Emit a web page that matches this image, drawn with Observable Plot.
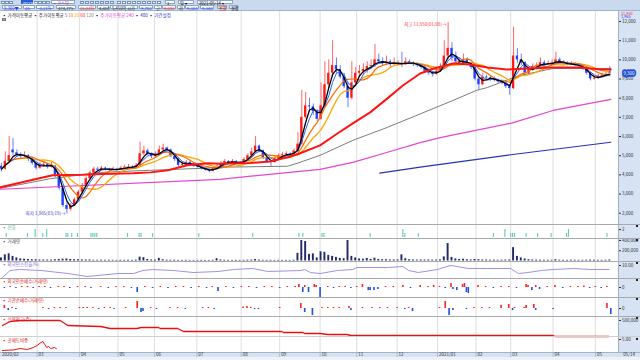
<!DOCTYPE html>
<html><head><meta charset="utf-8">
<script src="https://cdn.jsdelivr.net/npm/d3@7"></script>
<script src="https://cdn.jsdelivr.net/npm/@observablehq/plot@0.6"></script>
<style>
html,body{margin:0;padding:0;background:#fff}
#root{position:relative;width:640px;height:360px;overflow:hidden;font-family:"Noto Sans CJK KR","Noto Sans",sans-serif}
.abs{position:absolute}
.t{position:absolute;font-size:4.5px;line-height:4.5px;white-space:nowrap}
.box{position:absolute;background:#fff;border:0.5px solid #8ea5c4;box-sizing:border-box;font-size:4.2px;line-height:4px;white-space:nowrap;padding-left:1px}
.ib{position:absolute;width:3.5px;height:3.5px;background:#eef3fa;border:0.5px solid #7b93b5;box-sizing:border-box}
.sep{position:absolute;left:0;width:640px;height:1px;background:#a9a9a9}
</style></head>
<body><div id="root"></div>
<script>
// ---------- data ----------
const monthDay = [0,19,41,61,80,102,125,145,166,185,206,227,247,265,287,309];
const monthLabel = ["2020/02","03","04","05","06","07","08","09","10","11","12","2021/01","02","03","04","05"];
const lastDateLabel = "05/14";

const open = [4450,4300,4700,5300,5150,5050,4950,5000,4800,4600,
4350,4500,4550,4400,4450,4000,3300,2400,2200,2400,
2700,3100,3450,3800,4100,4300,4250,4350,4300,4250,
4300,4280,4350,4400,4420,4400,4500,5100,5250,5100,
4950,5050,5300,5400,5300,4950,4800,4500,4550,4650,
4550,4450,4400,4300,4250,4200,4350,4450,4600,4700,
4650,4700,4600,4650,4800,5000,5200,5500,5250,4850,
4700,4650,4850,5000,5050,5100,5050,5250,5600,7000,
7600,7550,7300,6900,7600,8700,9300,9700,9500,9100,
8600,8000,8800,9300,9400,9500,9650,9700,10000,9900,
9800,9900,9750,9850,9800,9750,9900,9850,9750,9700,
9600,9400,9300,9250,9400,9600,10200,10600,10100,9900,
9800,10000,9800,9600,9000,8700,9100,9050,9000,8950,
8850,8800,8600,8500,10200,10000,9850,9300,9500,9650,
9700,9850,9750,9800,9850,10000,9850,9800,9750,9800,
9700,9650,9500,9300,9000,9050,9150,9200,9400];
const high = [4600,5200,6000,5900,5300,5150,5200,5050,4900,4650,
4650,4700,4600,4650,4500,4050,3400,2550,2500,2800,
3200,3550,3900,4200,4400,4400,4450,4400,4350,4400,
4350,4450,4500,4550,4480,4600,5700,5500,5350,5150,
5200,5500,5600,5450,5350,5000,4850,4650,4750,4700,
4600,4500,4450,4350,4300,4400,4550,4700,4800,4750,
4800,4750,4700,4900,5100,5400,6000,5550,5300,4900,
4750,4950,5100,5150,5200,5150,5350,6200,8400,8300,
8000,7700,7400,8800,9900,10000,11000,10100,9700,9300,
8800,9900,9600,9700,9800,9900,10000,10800,10300,10100,
10200,10000,10100,9950,10400,10100,10000,9900,9850,9750,
9650,9500,9400,9550,9800,11000,11950,10900,10400,10100,
10300,10100,9850,9650,9100,9300,9200,9150,9100,9000,
8950,8850,8700,11700,10600,10300,9900,9650,9800,9850,
10100,9950,9950,10000,10400,10100,9950,9900,9900,9850,
9750,9700,9550,9350,9150,9250,9300,9350,9650];
const low = [4150,4250,4650,5000,4900,4850,4900,4700,4500,4250,
4300,4400,4300,4350,3850,3200,2300,1965,2100,2350,
2650,3000,3350,3700,4000,4150,4200,4200,4150,4200,
4200,4250,4300,4350,4300,4350,4450,5000,5000,4850,
4900,5000,5250,5200,4900,4700,4400,4450,4500,4500,
4400,4350,4250,4200,4100,4150,4300,4400,4550,4600,
4600,4550,4550,4600,4750,4950,5150,5150,4800,4600,
4400,4600,4800,4950,5000,4950,5000,5200,5550,6900,
7300,7100,6800,6850,7500,8500,9100,9300,9000,8500,
7500,7900,8700,9100,9200,9300,9500,9600,9800,9650,
9700,9600,9700,9700,9600,9700,9750,9650,9600,9500,
9300,9200,9100,9200,9350,9550,10000,9900,9800,9700,
9750,9700,9500,8900,8400,8650,8950,8900,8850,8750,
8700,8500,8150,8450,9800,9700,9200,9250,9450,9550,
9650,9650,9700,9750,9800,9800,9750,9700,9700,9650,
9600,9450,9200,8900,8950,9000,9100,9100,9250];
const close = [4300,4700,5000,5150,5050,4950,5000,4800,4600,4350,
4500,4550,4400,4500,4000,3300,2400,2200,2400,2700,
3100,3450,3800,4100,4300,4250,4350,4300,4250,4300,
4280,4350,4400,4420,4400,4500,5100,5250,5100,4950,
5050,5300,5400,5300,4950,4800,4500,4550,4650,4550,
4450,4400,4300,4250,4200,4350,4450,4600,4700,4650,
4700,4600,4650,4800,5000,5200,5500,5250,4850,4700,
4650,4850,5000,5050,5100,5050,5250,5600,7000,7600,
7550,7300,6900,7600,8700,9300,9700,9500,9100,8600,
8000,8800,9300,9400,9500,9650,9700,10000,9900,9800,
9900,9750,9850,9800,9750,9900,9850,9750,9700,9600,
9400,9300,9250,9400,9600,10200,10600,10100,9900,9800,
10000,9800,9600,9000,8700,9100,9050,9000,8950,8850,
8800,8600,8500,10200,10000,9850,9300,9500,9650,9700,
9850,9750,9800,9850,10000,9850,9800,9750,9800,9700,
9650,9500,9300,9000,9050,9150,9200,9250,9300];
const volume = [60000,120000,140000,90000,60000,40000,35000,30000,25000,25000,
20000,20000,18000,18000,25000,30000,35000,40000,30000,25000,
25000,22000,20000,20000,15000,14000,16000,13000,15000,14000,
12000,15000,14000,16000,13000,18000,75000,65000,30000,20000,
18000,50000,25000,16000,14000,15000,13000,12000,14000,12000,
11000,12000,13000,11000,12000,14000,45000,20000,15000,13000,
12000,14000,12000,13000,16000,18000,30000,18000,14000,12000,
13000,12000,14000,12000,13000,12000,15000,150000,400000,380000,
130000,140000,60000,180000,170000,110000,90000,70000,50000,45000,
400000,90000,60000,40000,35000,50000,30000,55000,30000,25000,
25000,20000,20000,22000,120000,45000,25000,20000,18000,20000,
18000,20000,17000,18000,22000,80000,340000,70000,40000,30000,
35000,25000,20000,30000,25000,20000,18000,16000,17000,15000,
16000,18000,20000,260000,90000,60000,40000,25000,20000,18000,
16000,15000,14000,15000,25000,16000,14000,13000,15000,14000,
13000,14000,15000,18000,15000,14000,13000,15000,20000];
const lowDate = "03/19", highDate = "01/08";

const ma60Day = [0,27,43,52,69,78,87,97,108,114,130,140,150,155,166,175,183,192,201,209,218,225,235,244,253,263,274,287,301,312,317];
const ma60Val = [3350,3980,4000,4050,4080,4130,4240,4500,4600,4580,4620,4700,4950,5100,5540,6160,6690,7260,7990,8660,9290,9550,9810,9760,9600,9500,9550,9600,9600,9500,9500];
const ma120Day = [0,26,52,78,104,114,149,154,166,183,201,218,235,247,253,264,270,287,305,317];
const ma120Val = [3300,3800,4130,4240,4340,4400,4450,4600,5020,5800,6480,7180,7880,8400,8560,8980,9190,9550,9550,9550];
const ma240Day = [0,114,166,183,201,218,229,265,287,317];
const ma240Val = [3250,3770,4290,4650,5180,5680,5960,6690,7360,7940];
const ma480Day = [197,218,265,317];
const ma480Val = [4090,4400,5050,5700];

const sigDay = [3,14,18,22,24,34,35,37,40,47,48,49,50,66,72,73,79,103,131,155,157,167,168,192,209,210,217,256,262,265,266,267,273,279,286,294,295,315];
const sigVal = [1,1,2,1,2,1,1,1,1,1,1,1,1,1,1,1,1,1,1,1,1,1,1,1,2,1,1,1,2,1,1,1,1,1,1,1,2,1];

const ownDay = [1,5,10,21,35,45,61,69,74,79,90,100,113,121,131,139,156,158,161,166,175,183,185,201,209,212,217,227,232,234,243,253,265,269,274,281,287,298,306,316];
const ownVal = [7.0,8.75,9.0,8.75,8.0,7.25,8.0,8.0,8.75,9.0,8.75,8.25,8.5,9.0,9.25,8.5,8.75,9.0,8.25,8.0,8.75,9.0,9.5,9.5,9.75,8.75,8.25,9.0,9.75,10.0,9.25,9.25,9.25,8.0,8.25,8.75,9.0,9.25,9.0,9.0];

const forDay = [2,5,8,11,14,17,20,23,26,30,33,36,40,44,47,52,56,60,64,68,71,75,79,83,87,91,95,99,103,107,110,113,117,121,125,129,133,137,141,145,149,153,155,157,158,160,163,164,166,170,173,176,179,182,185,188,191,192,194,196,200,204,209,213,218,222,225,228,231,234,235,237,240,241,242,243,248,252,256,260,264,268,273,274,276,278,280,284,288,292,296,300,303,306,309,312,315];
const forVal = [-1,1,-1,1,1,-1,1,1,-1,1,1,-1,1,1,-1,1,-1,1,1,-1,-5,1,-1,1,-1,1,1,-1,1,-1,1,-4,1,-1,1,1,-1,1,1,-1,1,1,3,-5,2,-5,3,2,-10,1,-1,1,1,-1,1,3,-3,-3,-3,-2,1,1,2,-1,2,1,2,1,-1,4,-2,-3,3,4,-5,-6,2,1,-1,1,1,-1,3,2,-3,2,-2,1,2,-1,1,1,1.5,-1,1,-1,1];

const insDay = [2,4,6,8,22,25,28,31,34,41,43,45,48,51,54,57,59,65,71,73,74,78,81,88,92,96,105,108,111,126,128,130,132,134,145,156,158,162,167,170,173,176,181,182,188,193,197,201,206,210,212,214,228,231,233,235,242,246,250,254,260,264,266,267,272,273,277,278,287,315,317];
const insVal = [3,-2,1,-1,1,-1,1,1,1,1,1,1,1,-1,1,1,-1,1,7,-4,-3,1,-1,1,1,-1,1,1,-1,1.5,2,1,-1,-1,1,5,-4,-7,1,1,1,1,2,-2,1,1,1,1,1,-1,1,-3,1,7,-7,-2,-1,1,1,1,3,4,-2,1,1,3,4,-2,-1,5,-6];

const crdDay = [1,5,10,31,35,52,57,71,73,82,83,92,95,146,147,157,158,166,170,180,182,287,288,316];
const crdVal = [375000,475000,500000,500000,375000,350000,300000,300000,325000,325000,300000,300000,225000,225000,200000,200000,175000,175000,150000,150000,125000,125000,100000,100000];

const shtDay = [1,7,10,14,17,19,21,22,23,24,25,26,28,29];
const shtVal = [2.25,2.4,2.75,2.5,3.0,3.5,4.25,4.5,3.75,3.0,3.25,2.75,3.0,2.75];

// ---------- helpers ----------
const root = document.getElementById("root");
const FONT = '"Noto Sans CJK KR","Noto Sans",sans-serif';
const W = 640, R = 22, XD = [0, 321];
const UP = "#ff1a1a", DN = "#1f3fff";
const fmt = d3.format(",");
const bars = close.map((c, i) => ({day: 2 * i + 0.5, o: open[i], h: high[i], l: low[i], c, v: volume[i]}));
const upBars = bars.filter(d => d.c >= d.o), dnBars = bars.filter(d => d.c < d.o);
const series = (days, vals) => days.map((d, i) => ({d, v: vals[i]}));
const grid = () => Plot.ruleX(monthDay.slice(1), {stroke: "#d6d6d6", strokeWidth: 0.8});

function add(html) { root.insertAdjacentHTML("beforeend", html); }
function place(svg, top) { svg.style.position = "absolute"; svg.style.left = "0px"; svg.style.top = top + "px"; root.appendChild(svg); }
function pane({top, height, domain, ticks, tickFormat, marks}) {
  place(Plot.plot({
    width: W, height, marginLeft: 0, marginRight: R, marginTop: 0, marginBottom: 0,
    x: {domain: XD, axis: null},
    y: {domain, axis: "right", ticks, tickFormat, tickSize: 2, tickPadding: 1.5, label: null},
    style: {background: "transparent", fontSize: "4.5px", fontFamily: FONT, color: "#333", overflow: "visible"},
    marks: [grid(), ...marks]
  }), top);
}

// ---------- backgrounds ----------
add(`<div class="abs" style="left:618px;top:11px;width:22px;height:341px;background:#d7e3f2;border-left:1px solid #9fb2cc;box-sizing:border-box"></div>`);
add(`<div class="abs" style="left:0;top:352px;width:640px;height:5px;background:#d7e3f2;border-top:1px solid #9fb2cc;box-sizing:border-box"></div>`);
add(`<div class="abs" style="left:0;top:357px;width:640px;height:3px;background:#eef1f6"></div>`);

// ---------- main price pane ----------
const lowI = d3.minIndex(low), highI = d3.maxIndex(high);
pane({
  top: 11, height: 213, domain: [1411, 12522],
  ticks: d3.range(2000, 12001, 1000), tickFormat: d => fmt(d),
  marks: [
    Plot.ruleX(upBars, {x: "day", y1: "l", y2: "h", stroke: UP, strokeWidth: 0.9, strokeOpacity: 0.75}),
    Plot.ruleX(dnBars, {x: "day", y1: "l", y2: "h", stroke: DN, strokeWidth: 0.9, strokeOpacity: 0.75}),
    Plot.rect(upBars, {x1: d => d.day - 0.6, x2: d => d.day + 0.6, y1: "o", y2: "c", fill: UP}),
    Plot.rect(dnBars, {x1: d => d.day - 0.6, x2: d => d.day + 0.6, y1: "o", y2: "c", fill: DN}),
    Plot.line(series(ma480Day, ma480Val), {x: "d", y: "v", stroke: "#2433b5", strokeWidth: 1.2}),
    Plot.line(series(ma240Day, ma240Val), {x: "d", y: "v", stroke: "#e545d0", strokeWidth: 1.2}),
    Plot.line(series(ma120Day, ma120Val), {x: "d", y: "v", stroke: "#7c7c7c", strokeWidth: 1}),
    Plot.lineY(bars, Plot.windowY({k: 11, anchor: "end", reduce: "mean"}, {x: "day", y: "c", stroke: "#ffa400", strokeWidth: 1.3})),
    Plot.lineY(bars, Plot.windowY({k: 7, anchor: "end", reduce: "mean"}, {x: "day", y: "c", stroke: "#ff6a00", strokeWidth: 1.2})),
    Plot.lineY(bars, Plot.windowY({k: 4, anchor: "end", reduce: "mean"}, {x: "day", y: "c", stroke: "#2a62ff", strokeWidth: 1})),
    Plot.lineY(bars, Plot.windowY({k: 3, anchor: "end", reduce: "mean"}, {x: "day", y: "c", stroke: "#000", strokeWidth: 1.3})),
    Plot.line(series(ma60Day, ma60Val), {x: "d", y: "v", stroke: "#ff1414", strokeWidth: 2}),
    Plot.text([lowI], {x: i => bars[i].day, y: i => low[i], text: i => `최저 ${fmt(low[i])}(${lowDate})→`, textAnchor: "end", dx: -1.5, fill: "#3b3bd6", fontSize: 4.5}),
    Plot.text([highI], {x: i => bars[i].day, y: i => high[i], text: i => `최고 ${fmt(high[i])}(${highDate})→`, textAnchor: "end", dx: -1.5, dy: 2, fill: "#ff3a3a", fontSize: 4.5}),
    Plot.text([close[close.length - 1]], {y: d => d, text: d => fmt(d), frameAnchor: "right", dx: 10.5, textAnchor: "middle", fill: "#fff", stroke: "#1d4fd0", strokeWidth: 3.5, fontSize: 4.5})
  ]
});

// ---------- sub panes ----------
pane({top: 224, height: 14, domain: [-0.25, 3.25], ticks: [2], tickFormat: d => String(d),
  marks: [Plot.ruleX(series(sigDay, sigVal), {x: "d", y1: 0, y2: "v", stroke: "#5fcfa4", strokeWidth: 1.1})]});
pane({top: 238, height: 23, domain: [-9800, 439000], ticks: [200000, 400000], tickFormat: d => fmt(d),
  marks: [Plot.rect(bars, {x1: d => d.day - 0.5, x2: d => d.day + 0.5, y1: 0, y2: "v", fill: "#222a6c"})]});
pane({top: 261, height: 17, domain: [6.75, 11], ticks: [10], tickFormat: d => d.toFixed(2),
  marks: [Plot.line(series(ownDay, ownVal), {x: "d", y: "v", stroke: "#a090e4", strokeWidth: 1})]});
const forS = series(forDay, forVal), insS = series(insDay, insVal);
pane({top: 278, height: 19, domain: [-10, 9], ticks: [0], tickFormat: d => "0",
  marks: [
    Plot.ruleX(forS.filter(d => d.v > 0), {x: "d", y1: 0, y2: "v", stroke: "#ff2020", strokeWidth: 1.6}),
    Plot.ruleX(forS.filter(d => d.v < 0), {x: "d", y1: 0, y2: "v", stroke: "#1f4fe0", strokeWidth: 1.6})]});
pane({top: 297, height: 19, domain: [-8, 11], ticks: [0], tickFormat: d => "0",
  marks: [
    Plot.ruleX(insS.filter(d => d.v > 0), {x: "d", y1: 0, y2: "v", stroke: "#ff2020", strokeWidth: 1.6}),
    Plot.ruleX(insS.filter(d => d.v < 0), {x: "d", y1: 0, y2: "v", stroke: "#1f4fe0", strokeWidth: 1.6})]});
pane({top: 316, height: 20, domain: [100000, 600000], ticks: [500000], tickFormat: d => fmt(d),
  marks: [Plot.line(series(crdDay, crdVal), {x: "d", y: "v", stroke: "#e81010", strokeWidth: 1.3})]});
pane({top: 337, height: 15, domain: [1.75, 5.5], ticks: [5], tickFormat: d => d.toFixed(2),
  marks: [Plot.line(series(shtDay, shtVal), {x: "d", y: "v", stroke: "#e81010", strokeWidth: 1})]});

// ---------- date strip ----------
place(Plot.plot({
  width: W, height: 5, marginLeft: 0, marginRight: R, marginTop: 0, marginBottom: 0,
  x: {domain: XD, axis: null},
  style: {background: "transparent", fontSize: "4.5px", fontFamily: FONT, color: "#333", overflow: "visible"},
  marks: [
    Plot.ruleX(monthDay.slice(1), {stroke: "#9fb2cc", strokeWidth: 0.8}),
    Plot.text(monthDay, {x: d => d, text: (d, i) => monthLabel[i], textAnchor: "start", dx: 1.5, fill: "#333"}),
    Plot.text([lastDateLabel], {frameAnchor: "right", dx: 10.5, textAnchor: "middle", text: d => d, fill: "#333"})
  ]
}), 352);

// ---------- separators & pane labels ----------
[224, 238, 261, 278, 297, 316].forEach(y => add(`<div class="sep" style="top:${y}px"></div>`));
add(`<div class="abs" style="left:0;top:335.5px;width:640px;height:1.5px;background:#cfcfcf"></div>`);
[[224,"▪ 신호","#3a9a80"],[238,"▪ 거래량","#444"],[261,"▪ 외국인소진율(%)","#7a68c8"],[278,"▪ 외국인순매수(거래량)","#e02020"],[297,"▪ 기관순매수(거래량)","#e02020"],[316,"▪ 신용잔고(주)","#e02020"],[337,"▪ 공매도비중","#e02020"]]
  .forEach(([y, s, c]) => add(`<div class="t" style="left:2px;top:${y + 1}px;color:${c}">${s}</div>`));
[224, 238, 261, 278, 297, 316, 337].forEach(y => add(`<div class="abs" style="left:636px;top:${y + 1}px;width:2px;height:2px;background:#222"></div>`));

// ---------- toolbar ----------
add(`<div class="abs" style="left:0;top:0;width:640px;height:11px;background:#c9d9ee;border-bottom:1px solid #9db3d2;box-sizing:border-box"></div>`);
[1,5,9,34,38,42,46].forEach(x => add(`<div class="ib" style="left:${x}px;top:0.5px"></div>`));
add(`<div class="box" style="left:21px;top:0.3px;width:12px;height:4px;background:#2a5bd8;color:#fff;border-color:#2a5bd8">003380</div>`);
add(`<div class="box" style="left:51px;top:0.3px;width:24px;height:4px;color:#c02080">▪코스닥</div>`);
[80,85,90,95,100,105,110].forEach(x => add(`<div class="ib" style="left:${x}px;top:0.5px;background:#dfe8f5"></div>`));
[117,122,127,132,137,142,147,152,157].forEach(x => add(`<div class="ib" style="left:${x}px;top:0.5px;background:#fff"></div>`));
add(`<div class="box" style="left:165px;top:0.3px;width:10px;height:4px">1</div>`);
add(`<div class="box" style="left:178px;top:0.3px;width:16px;height:4px">일 ▾</div>`);
add(`<div class="box" style="left:197px;top:0.3px;width:36px;height:4px">2021/05/14 ▾</div>`);
const fields = [[2,20,"9,300▼","#1f3fff"],[23,12,"20","#1f3fff"],[36,18,"-0.21%","#1f3fff"],[56,20,"474,775","#222"],[78,18,"15.04%","#ff1a1a"],[97,12,"4,400","#222"],[110,28,"5,450억 시가","#222"],[139,14,"9,700","#1f3fff"],[154,8,"고","#222"],[162,14,"9,600","#ff1a1a"],[177,8,"저","#222"],[185,14,"9,300","#1f3fff"],[200,14,"9,340","#1f3fff"]];
fields.forEach(([x, w, s, c]) => add(`<div class="box" style="left:${x}px;top:5.2px;width:${w}px;height:4.3px;color:${c}">${s}</div>`));
add(`<div class="box" style="left:217px;top:5.2px;width:10px;height:4.3px;background:#f2c9c9;color:#a00">조회</div>`);
add(`<div class="box" style="left:229px;top:5.2px;width:9px;height:4.3px;background:#e4ecf7">설정</div>`);

// ---------- legend ----------
add(`<div class="t" style="left:2px;top:12.5px;color:#222">▪ 가격이동평균 ▪ 주가이동평균 <span style="color:#2a62ff">5</span> <span style="color:#ff6a00">10</span> <span style="color:#ffa400">20</span> <span style="color:#ff1414">60</span> <span style="color:#7c7c7c">120</span> ▪ <span style="color:#e545d0">주가이동평균 240</span> ▪ <span style="color:#2433b5">480</span> ▪ <span style="color:#2433b5">기간설정</span></div>`);
add(`<div class="abs" style="left:2px;top:17.5px;width:4px;height:3px;background:#bbb;border:0.5px solid #777;box-sizing:border-box"></div>`);
add(`<div class="t" style="left:621px;top:11.5px;font-size:3.8px;line-height:3.8px;color:#ff1a1a">11,950</div>`);
add(`<div class="t" style="left:621px;top:15px;font-size:3.8px;line-height:3.8px;color:#1f3fff">1,965</div>`);
</script></body></html>
